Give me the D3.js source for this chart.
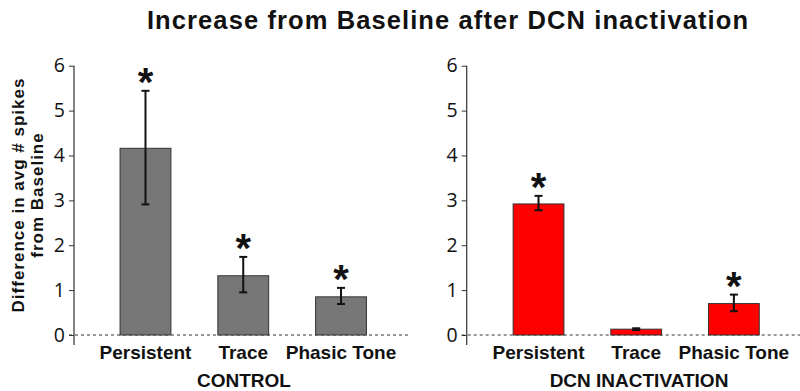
<!DOCTYPE html>
<html>
<head>
<meta charset="utf-8">
<script src="https://cdn.jsdelivr.net/npm/d3@7"></script>
<style>
  html, body { margin: 0; padding: 0; background: #fff; }
  svg { display: block; }
</style>
</head>
<body>
<svg id="chart" width="800" height="391"></svg>
<script>
// Categories and values (difference in avg # spikes from baseline)
const categories = ["Persistent", "Trace", "Phasic Tone"];
const controlMean = [4.16, 1.32, 0.85];
const controlErrHigh = [5.44, 1.74, 1.05];
const controlErrLow = [2.91, 0.95, 0.69];
const controlSig = [true, true, true];

const dcnMean = [2.92, 0.13, 0.70];
const dcnErrHigh = [3.10, 0.15, 0.90];
const dcnErrLow = [2.78, 0.11, 0.53];
const dcnSig = [true, false, true];

const yTicks = [0, 1, 2, 3, 4, 5, 6];
const titleText = "Increase from Baseline after DCN inactivation";
const yTitleLines = ["Difference in avg # spikes", "from Baseline"];

const svg = d3.select("#chart");
const boldFont = "'Liberation Sans', Arial, sans-serif";
const tickFont = "'Open Sans', 'DejaVu Sans', sans-serif";

svg.append("text")
  .attr("x", 448).attr("y", 29)
  .attr("text-anchor", "middle")
  .attr("font-family", boldFont)
  .attr("font-weight", "bold")
  .attr("font-size", 25.5)
  .attr("letter-spacing", 1.1)
  .attr("fill", "#111")
  .text(titleText);

// Rotated two-line y-axis title
const yTitle = svg.append("text")
  .attr("transform", "translate(18,195) rotate(-90)")
  .attr("text-anchor", "middle")
  .attr("font-family", boldFont)
  .attr("font-weight", "bold")
  .attr("font-size", 17)
  .attr("letter-spacing", 1)
  .attr("fill", "#111");
yTitleLines.forEach((line, i) => {
  yTitle.append("tspan")
    .attr("x", 0)
    .attr("dy", i === 0 ? 6 : 18.5)
    .text(line);
});

function panel(cfg) {
  const g = svg.append("g");
  const y = d3.scaleLinear().domain([0, 6]).range([335, 65.7]);
  const x = d3.scaleBand().domain(categories)
    .range(cfg.xRange).paddingInner(0.48).paddingOuter(0.24);

  // dashed zero line
  g.append("line")
    .attr("x1", cfg.axisX - 5).attr("x2", cfg.dashEnd)
    .attr("y1", y(0)).attr("y2", y(0))
    .attr("stroke", "#333").attr("stroke-width", 1)
    .attr("stroke-dasharray", "3,3");

  // y axis
  const axis = d3.axisLeft(y).tickValues(yTicks).tickSize(5).tickPadding(4)
    .tickFormat(d3.format("d"));
  const ag = g.append("g").attr("transform", `translate(${cfg.axisX},0)`).call(axis);
  ag.select(".domain").remove();
  ag.selectAll(".tick line").attr("stroke", "#333");
  ag.selectAll(".tick text")
    .attr("font-family", tickFont)
    .attr("font-size", 19.5)
    .attr("fill", "#111");
  g.append("line")
    .attr("x1", cfg.axisX).attr("x2", cfg.axisX)
    .attr("y1", y(6)).attr("y2", 345)
    .attr("stroke", "#333").attr("stroke-width", 1.2);

  const data = categories.map((c, i) => ({
    c, m: cfg.mean[i], hi: cfg.hi[i], lo: cfg.lo[i], sig: cfg.sig[i]
  }));

  g.selectAll("rect.bar").data(data).enter().append("rect")
    .attr("class", "bar")
    .attr("x", d => x(d.c))
    .attr("width", x.bandwidth())
    .attr("y", d => y(d.m))
    .attr("height", d => y(0) - y(d.m))
    .attr("fill", cfg.fill)
    .attr("stroke", "#333").attr("stroke-width", 1);

  const cx = d => x(d.c) + x.bandwidth() / 2;
  const eb = g.selectAll("g.err").data(data).enter().append("g").attr("class", "err");
  eb.append("line")
    .attr("x1", cx).attr("x2", cx)
    .attr("y1", d => y(d.hi)).attr("y2", d => y(d.lo))
    .attr("stroke", "#111").attr("stroke-width", 2);
  [d => d.hi, d => d.lo].forEach(f => {
    eb.append("line")
      .attr("x1", d => cx(d) - 4).attr("x2", d => cx(d) + 4)
      .attr("y1", d => y(f(d))).attr("y2", d => y(f(d)))
      .attr("stroke", "#111").attr("stroke-width", 2);
  });

  g.selectAll("text.star").data(data.filter(d => d.sig)).enter().append("text")
    .attr("class", "star")
    .attr("x", cx)
    .attr("y", d => y(d.hi) + 5)
    .attr("text-anchor", "middle")
    .attr("font-family", boldFont)
    .attr("font-weight", "bold")
    .attr("font-size", 40)
    .attr("fill", "#111")
    .text("*");

  g.selectAll("text.cat").data(data).enter().append("text")
    .attr("class", "cat")
    .attr("x", cx)
    .attr("y", 359)
    .attr("text-anchor", "middle")
    .attr("font-family", boldFont)
    .attr("font-weight", "bold")
    .attr("font-size", 19)
    .attr("fill", "#111")
    .text(d => d.c);

  g.append("text")
    .attr("x", cfg.groupX).attr("y", 387)
    .attr("text-anchor", "middle")
    .attr("font-family", boldFont)
    .attr("font-weight", "bold")
    .attr("font-size", 19)
    .attr("fill", "#111")
    .text(cfg.group);
}

panel({
  axisX: 74, xRange: [96.6, 389.9], dashEnd: 408,
  mean: controlMean, hi: controlErrHigh, lo: controlErrLow, sig: controlSig,
  fill: "#777777", group: "CONTROL", groupX: 244
});
panel({
  axisX: 466.7, xRange: [489.7, 782.7], dashEnd: 800,
  mean: dcnMean, hi: dcnErrHigh, lo: dcnErrLow, sig: dcnSig,
  fill: "#ff0000", group: "DCN INACTIVATION", groupX: 639
});
</script>
</body>
</html>
